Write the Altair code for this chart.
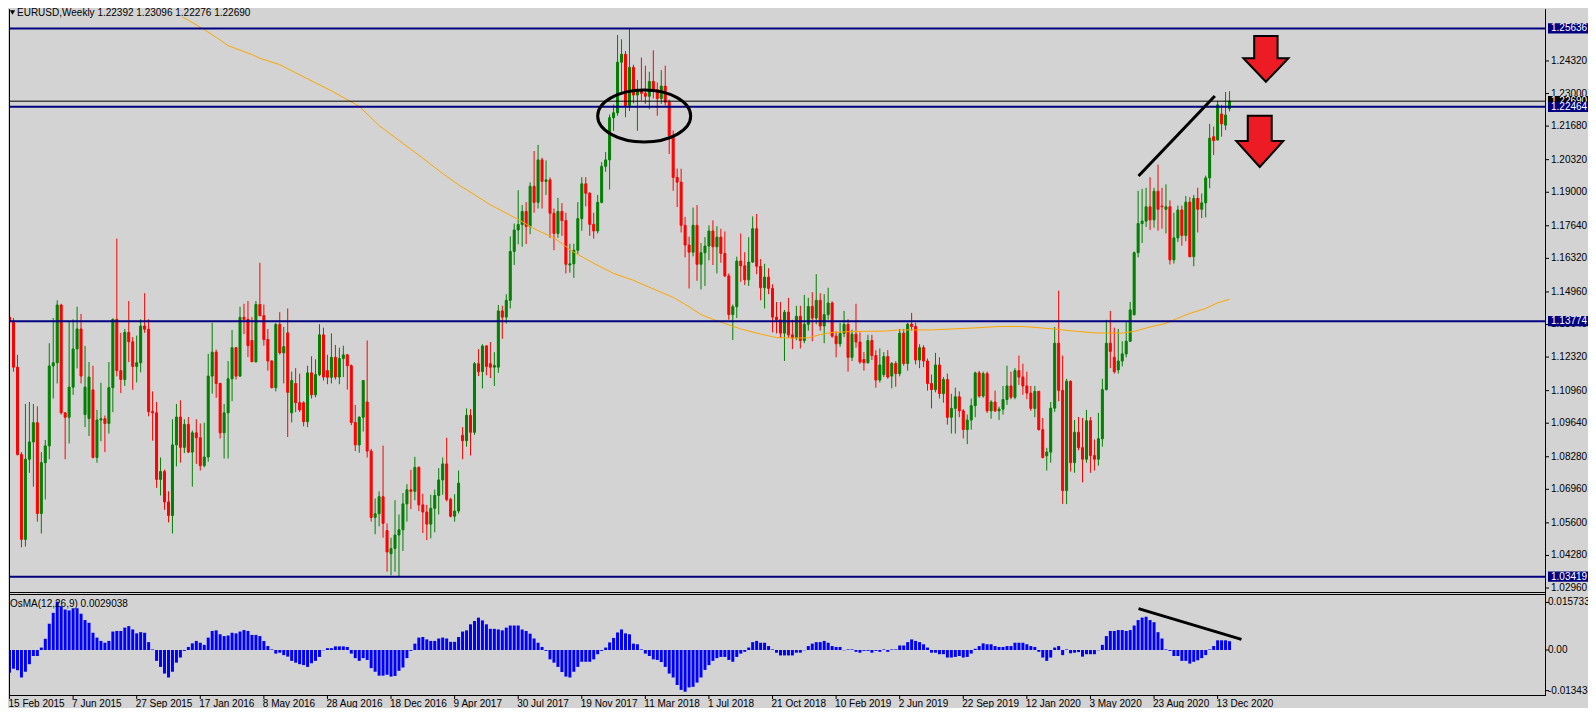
import json
import altair as alt
import pandas as pd

# ---------------- data ----------------
symbol = "EURUSD"
timeframe = "Weekly"

opens = [
    1.1394, 1.1375, 1.1191, 1.0837, 1.0493, 1.0818, 1.0888, 1.0966, 1.0598, 1.0804,
    1.0872, 1.1196, 1.1209, 1.1443, 1.1006, 1.0988, 1.1110, 1.1265, 1.1346, 1.0999,
    1.0983, 1.1099, 1.0825, 1.0977, 1.0982, 1.0963, 1.1108, 1.1385, 1.1177, 1.1141,
    1.1332, 1.1294, 1.1194, 1.1209, 1.1358, 1.1345, 1.1011, 1.1006, 1.0736, 1.0768,
    1.0645, 1.0590, 1.0876, 1.0989, 1.0866, 1.0959, 1.0847, 1.0925, 1.0905, 1.0792,
    1.0827, 1.1155, 1.1252, 1.1125, 1.0925, 1.1006, 1.1144, 1.1270, 1.1155, 1.1393,
    1.1385, 1.1299, 1.1213, 1.1445, 1.1400, 1.1303, 1.1216, 1.1108, 1.1364, 1.1249,
    1.1330, 1.1006, 1.1125, 1.1047, 1.1047, 1.0970, 1.1168, 1.1079, 1.1161, 1.1322,
    1.1177, 1.1150, 1.1231, 1.1151, 1.1226, 1.1241, 1.1197, 1.0967, 1.0876, 1.0988,
    1.1050, 1.0851, 1.0582, 1.0597, 1.0666, 1.0529, 1.0435, 1.0456, 1.0511, 1.0532,
    1.0637, 1.0694, 1.0688, 1.0785, 1.0633, 1.0604, 1.0555, 1.0619, 1.0671, 1.0734,
    1.0799, 1.0655, 1.0587, 1.0608, 1.0915, 1.0893, 1.0996, 1.0927, 1.1205, 1.1173,
    1.1277, 1.1205, 1.1191, 1.1191, 1.1419, 1.1394, 1.1462, 1.1660, 1.1747, 1.1769,
    1.1822, 1.1762, 1.1924, 1.1859, 1.2031, 1.1944, 1.1950, 1.1815, 1.1733, 1.1822,
    1.1785, 1.1605, 1.1610, 1.1665, 1.1793, 1.1934, 1.1896, 1.1770, 1.1743, 1.1859,
    1.2005, 1.2031, 1.2202, 1.2222, 1.2427, 1.2459, 1.2251, 1.2406, 1.2294, 1.2317,
    1.2301, 1.2289, 1.2349, 1.2316, 1.2280, 1.2330, 1.2265, 1.2129, 1.1960, 1.1941,
    1.1766, 1.1686, 1.1657, 1.1766, 1.1608, 1.1655, 1.1682, 1.1743, 1.1679, 1.1718,
    1.1652, 1.1561, 1.1404, 1.1436, 1.1621, 1.1602, 1.1545, 1.1617, 1.1752, 1.1600,
    1.1513, 1.1556, 1.1510, 1.1394, 1.1383, 1.1329, 1.1414, 1.1322, 1.1310, 1.1397,
    1.1299, 1.1365, 1.1437, 1.1390, 1.1462, 1.1358, 1.1404, 1.1451, 1.1317, 1.1286,
    1.1328, 1.1364, 1.1231, 1.1325, 1.1293, 1.1222, 1.1209, 1.1299, 1.1238, 1.1139,
    1.1161, 1.1234, 1.1155, 1.1206, 1.1165, 1.1329, 1.1206, 1.1365, 1.1356, 1.1220,
    1.1270, 1.1216, 1.1125, 1.1100, 1.1200, 1.1084, 1.1141, 1.0988, 1.1024, 1.1071,
    1.1014, 1.0938, 1.0977, 1.1035, 1.1168, 1.1074, 1.1165, 1.1014, 1.1050, 1.1014,
    1.1021, 1.1060, 1.1115, 1.1069, 1.1177, 1.1151, 1.1115, 1.1086, 1.1024, 1.1093,
    1.0938, 1.0832, 1.0847, 1.1025, 1.1288, 1.1097, 1.0691, 1.1134, 1.0804, 1.0927,
    1.0865, 1.0818, 1.0974, 1.0833, 1.0818, 1.0901, 1.1100, 1.1288, 1.1231, 1.1180,
    1.1216, 1.1245, 1.1296, 1.1404, 1.1655, 1.1773, 1.1783, 1.1841, 1.1788, 1.1904,
    1.1844, 1.1831, 1.1841, 1.1626, 1.1715, 1.1828, 1.1725, 1.1860, 1.1639, 1.1875,
    1.1831, 1.1857, 1.1958, 1.2125, 1.2112, 1.2217, 1.2172, 1.22392,
]
highs = [
    1.1448, 1.1390, 1.1241, 1.0847, 1.1042, 1.1050, 1.1042, 1.1032, 1.0847, 1.0896,
    1.1288, 1.1390, 1.1462, 1.1448, 1.1009, 1.1375, 1.1385, 1.1436, 1.1407, 1.1277,
    1.1212, 1.1197, 1.1018, 1.1128, 1.0995, 1.1212, 1.1388, 1.1712, 1.1330, 1.1346,
    1.1459, 1.1313, 1.1319, 1.1385, 1.1491, 1.1385, 1.1093, 1.1050, 1.0825, 1.0776,
    1.0688, 1.0980, 1.1042, 1.1057, 1.0980, 1.0989, 1.0934, 1.0980, 1.0963, 1.0966,
    1.1245, 1.1371, 1.1262, 1.1128, 1.1042, 1.1216, 1.1342, 1.1273, 1.1436, 1.1448,
    1.1459, 1.1394, 1.1459, 1.1614, 1.1445, 1.1346, 1.1220, 1.1371, 1.1414, 1.1354,
    1.1429, 1.1173, 1.1187, 1.1165, 1.1053, 1.1197, 1.1235, 1.1223, 1.1365, 1.1351,
    1.1241, 1.1328, 1.1281, 1.1270, 1.1278, 1.1245, 1.1202, 1.1038, 1.0992, 1.1139,
    1.1299, 1.0860, 1.0659, 1.0688, 1.0873, 1.0558, 1.0500, 1.0652, 1.0594, 1.0681,
    1.0717, 1.0775, 1.0828, 1.0789, 1.0678, 1.0633, 1.0674, 1.0695, 1.0782, 1.0825,
    1.0905, 1.0662, 1.0676, 1.0772, 1.0948, 1.1024, 1.1021, 1.1212, 1.1264, 1.1284,
    1.1281, 1.1293, 1.1252, 1.1443, 1.1440, 1.1487, 1.1721, 1.1773, 1.1908, 1.1848,
    1.1860, 1.1940, 1.2067, 1.2092, 1.2040, 1.2029, 1.1960, 1.1834, 1.1877, 1.1856,
    1.1817, 1.1691, 1.1691, 1.1860, 1.1961, 1.1961, 1.1900, 1.1817, 1.1889, 1.2022,
    1.2063, 1.2215, 1.2255, 1.2537, 1.2520, 1.2472, 1.2563, 1.2417, 1.2355, 1.2446,
    1.2413, 1.2388, 1.2475, 1.2345, 1.2395, 1.2413, 1.2275, 1.2150, 1.1996, 1.1995,
    1.1800, 1.1720, 1.1838, 1.1848, 1.1694, 1.1718, 1.1766, 1.1786, 1.1762, 1.1752,
    1.1741, 1.1571, 1.1445, 1.1639, 1.1733, 1.1657, 1.1718, 1.1802, 1.1812, 1.1629,
    1.1610, 1.1592, 1.1527, 1.1455, 1.1455, 1.1423, 1.1472, 1.1383, 1.1440, 1.1440,
    1.1484, 1.1472, 1.1495, 1.1568, 1.1491, 1.1487, 1.1513, 1.1458, 1.1336, 1.1371,
    1.1419, 1.1385, 1.1343, 1.1448, 1.1332, 1.1252, 1.1322, 1.1322, 1.1260, 1.1267,
    1.1252, 1.1260, 1.1212, 1.1215, 1.1346, 1.1346, 1.1371, 1.1411, 1.1371, 1.1284,
    1.1280, 1.1226, 1.1161, 1.1249, 1.1231, 1.1151, 1.1165, 1.1083, 1.1108, 1.1093,
    1.1021, 1.0999, 1.1064, 1.1173, 1.1176, 1.1173, 1.1173, 1.1057, 1.1096, 1.1031,
    1.1115, 1.1197, 1.1173, 1.1187, 1.1238, 1.1205, 1.1173, 1.1115, 1.1115, 1.1095,
    1.0985, 1.0864, 1.1050, 1.1354, 1.1501, 1.1238, 1.1144, 1.1137, 1.0977, 1.0989,
    1.0985, 1.1018, 1.0989, 1.0898, 1.1006, 1.1144, 1.1383, 1.1419, 1.1351, 1.1346,
    1.1296, 1.1375, 1.1455, 1.1660, 1.1906, 1.1914, 1.1918, 1.1961, 1.1918, 1.2012,
    1.1918, 1.1932, 1.1867, 1.1817, 1.1846, 1.1846, 1.1885, 1.1880, 1.1889, 1.1918,
    1.1895, 1.1967, 1.2177, 1.2166, 1.2270, 1.2254, 1.2306, 1.23096,
]
lows = [
    1.1274, 1.1173, 1.0833, 1.0461, 1.0464, 1.0763, 1.0707, 1.0565, 1.0517, 1.0655,
    1.0818, 1.1064, 1.1125, 1.0999, 1.0818, 1.0882, 1.1079, 1.1186, 1.1125, 1.0948,
    1.0912, 1.0821, 1.0804, 1.0891, 1.0847, 1.0922, 1.1009, 1.1154, 1.1086, 1.1115,
    1.1212, 1.1099, 1.1129, 1.1170, 1.1330, 1.0992, 1.0893, 1.0702, 1.0671, 1.0613,
    1.0562, 1.0517, 1.0789, 1.0804, 1.0843, 1.0843, 1.0707, 1.0799, 1.0772, 1.0785,
    1.0808, 1.1084, 1.1067, 1.0902, 1.0821, 1.0821, 1.1053, 1.1141, 1.1151, 1.1325,
    1.1232, 1.1212, 1.1210, 1.1397, 1.1278, 1.1177, 1.1105, 1.1093, 1.1242, 1.1125,
    1.0908, 1.0967, 1.1009, 1.1009, 1.0951, 1.0948, 1.1064, 1.1069, 1.1155, 1.1137,
    1.1122, 1.1125, 1.1141, 1.1122, 1.1151, 1.1100, 1.0956, 1.0851, 1.0844, 1.0930,
    1.0825, 1.0565, 1.0514, 1.0546, 1.0500, 1.0362, 1.0348, 1.0362, 1.0342, 1.0446,
    1.0565, 1.0616, 1.0652, 1.0608, 1.0519, 1.0490, 1.0497, 1.0522, 1.0594, 1.0674,
    1.0647, 1.0582, 1.0565, 1.0598, 1.0818, 1.0869, 1.0833, 1.0917, 1.1155, 1.1105,
    1.1158, 1.1147, 1.1115, 1.1168, 1.1306, 1.1368, 1.1429, 1.1605, 1.1689, 1.1679,
    1.1690, 1.1730, 1.1817, 1.1834, 1.1834, 1.1889, 1.1715, 1.1665, 1.1715, 1.1723,
    1.1571, 1.1574, 1.1553, 1.1650, 1.1744, 1.1843, 1.1723, 1.1712, 1.1733, 1.1855,
    1.1983, 1.1911, 1.2149, 1.2210, 1.2300, 1.2204, 1.2229, 1.2260, 1.2149, 1.2272,
    1.2258, 1.2236, 1.2280, 1.2210, 1.2258, 1.2251, 1.2055, 1.1906, 1.1840, 1.1737,
    1.1636, 1.1510, 1.1640, 1.1541, 1.1506, 1.1520, 1.1624, 1.1605, 1.1571, 1.1614,
    1.1556, 1.1383, 1.1301, 1.1390, 1.1537, 1.1524, 1.1520, 1.1614, 1.1568, 1.1462,
    1.1429, 1.1487, 1.1332, 1.1328, 1.1310, 1.1216, 1.1310, 1.1264, 1.1300, 1.1267,
    1.1288, 1.1339, 1.1296, 1.1365, 1.1339, 1.1288, 1.1383, 1.1310, 1.1231, 1.1274,
    1.1313, 1.1173, 1.1216, 1.1270, 1.1205, 1.1177, 1.1206, 1.1220, 1.1108, 1.1129,
    1.1151, 1.1144, 1.1105, 1.1112, 1.1154, 1.1197, 1.1177, 1.1339, 1.1202, 1.1187,
    1.1191, 1.1096, 1.1024, 1.1089, 1.1064, 1.1047, 1.0958, 1.0922, 1.0922, 1.0988,
    1.0902, 1.0879, 1.0938, 1.0988, 1.1067, 1.1067, 1.1006, 1.0982, 1.1009, 1.0977,
    1.0999, 1.1038, 1.1061, 1.1061, 1.1119, 1.1079, 1.1061, 1.1014, 1.0988, 1.0934,
    1.0821, 1.0772, 1.0804, 1.1010, 1.1053, 1.0637, 1.0636, 1.0768, 1.0763, 1.0854,
    1.0724, 1.0804, 1.0763, 1.0772, 1.0792, 1.0869, 1.1097, 1.1187, 1.1165, 1.1165,
    1.1194, 1.1231, 1.1293, 1.1400, 1.1636, 1.1694, 1.1759, 1.1747, 1.1756, 1.1744,
    1.1752, 1.1733, 1.1607, 1.1611, 1.1698, 1.1683, 1.1701, 1.1636, 1.1600, 1.1737,
    1.1795, 1.1798, 1.1916, 1.2051, 1.2110, 1.2125, 1.2152, 1.22276,
]
closes = [
    1.1375, 1.1191, 1.0837, 1.0493, 1.0818, 1.0888, 1.0966, 1.0598, 1.0804, 1.0872,
    1.1196, 1.1209, 1.1443, 1.1006, 1.0988, 1.1110, 1.1265, 1.1346, 1.1155, 1.1110,
    1.1151, 1.0825, 1.0977, 1.0982, 1.0963, 1.1108, 1.1385, 1.1177, 1.1141, 1.1332,
    1.1294, 1.1194, 1.1209, 1.1358, 1.1345, 1.1011, 1.1006, 1.0736, 1.0768, 1.0645,
    1.0590, 1.0876, 1.0989, 1.0866, 1.0959, 1.0847, 1.0925, 1.0905, 1.0792, 1.0827,
    1.1155, 1.1252, 1.1125, 1.0925, 1.1006, 1.1144, 1.1270, 1.1155, 1.1393, 1.1385,
    1.1278, 1.1213, 1.1445, 1.1400, 1.1303, 1.1216, 1.1108, 1.1364, 1.1249, 1.1274,
    1.1089, 1.1137, 1.1047, 1.1018, 1.0970, 1.1168, 1.1079, 1.1161, 1.1322, 1.1151,
    1.1150, 1.1231, 1.1151, 1.1226, 1.1241, 1.1197, 1.0967, 1.0876, 1.0988, 1.1137,
    1.0851, 1.0582, 1.0597, 1.0666, 1.0558, 1.0442, 1.0456, 1.0511, 1.0532, 1.0637,
    1.0694, 1.0688, 1.0785, 1.0633, 1.0604, 1.0555, 1.0619, 1.0671, 1.0734, 1.0799,
    1.0655, 1.0587, 1.0608, 1.0721, 1.0893, 1.0996, 1.0927, 1.1205, 1.1173, 1.1277,
    1.1194, 1.1191, 1.1198, 1.1419, 1.1394, 1.1462, 1.1660, 1.1747, 1.1769, 1.1822,
    1.1762, 1.1924, 1.1859, 1.2031, 1.1944, 1.1950, 1.1815, 1.1733, 1.1822, 1.1785,
    1.1608, 1.1610, 1.1665, 1.1793, 1.1934, 1.1896, 1.1770, 1.1743, 1.1859, 1.2005,
    1.2031, 1.2202, 1.2222, 1.2427, 1.2459, 1.2251, 1.2406, 1.2294, 1.2317, 1.2301,
    1.2289, 1.2349, 1.2316, 1.2280, 1.2330, 1.2265, 1.2129, 1.1960, 1.1941, 1.1766,
    1.1686, 1.1657, 1.1766, 1.1608, 1.1655, 1.1682, 1.1743, 1.1679, 1.1718, 1.1652,
    1.1561, 1.1404, 1.1436, 1.1621, 1.1602, 1.1545, 1.1617, 1.1752, 1.1600, 1.1513,
    1.1556, 1.1510, 1.1394, 1.1383, 1.1329, 1.1414, 1.1322, 1.1310, 1.1397, 1.1299,
    1.1365, 1.1437, 1.1390, 1.1462, 1.1358, 1.1404, 1.1451, 1.1317, 1.1286, 1.1328,
    1.1364, 1.1231, 1.1325, 1.1293, 1.1212, 1.1209, 1.1299, 1.1238, 1.1139, 1.1200,
    1.1234, 1.1151, 1.1206, 1.1165, 1.1329, 1.1206, 1.1365, 1.1356, 1.1220, 1.1270,
    1.1216, 1.1125, 1.1100, 1.1200, 1.1084, 1.1141, 1.0988, 1.1024, 1.1071, 1.1014,
    1.0938, 1.0977, 1.1035, 1.1168, 1.1074, 1.1165, 1.1014, 1.1050, 1.1014, 1.1021,
    1.1060, 1.1115, 1.1069, 1.1177, 1.1151, 1.1115, 1.1086, 1.1024, 1.1093, 1.0938,
    1.0825, 1.0847, 1.1025, 1.1288, 1.1097, 1.0691, 1.1134, 1.0804, 1.0927, 1.0865,
    1.0818, 1.0974, 1.0833, 1.0818, 1.0901, 1.1100, 1.1288, 1.1255, 1.1173, 1.1216,
    1.1245, 1.1296, 1.1423, 1.1655, 1.1773, 1.1783, 1.1841, 1.1788, 1.1904, 1.1831,
    1.1841, 1.1841, 1.1626, 1.1715, 1.1828, 1.1725, 1.1860, 1.1639, 1.1875, 1.1831,
    1.1857, 1.1958, 1.2119, 1.2109, 1.2254, 1.2177, 1.2213, 1.22690,
]
osma = [
    -0.0075, -0.0062, -0.0067, -0.0091, -0.0072, -0.0047, -0.0020, -0.0020, 0.0008, 0.0037,
    0.0087, 0.0123, 0.0160, 0.0145, 0.0134, 0.0131, 0.0138, 0.0138, 0.0120, 0.0099,
    0.0090, 0.0057, 0.0041, 0.0030, 0.0024, 0.0030, 0.0061, 0.0063, 0.0063, 0.0074,
    0.0079, 0.0068, 0.0055, 0.0059, 0.0057, 0.0026, 0.0002, -0.0036, -0.0056, -0.0078,
    -0.0091, -0.0072, -0.0042, -0.0025, -0.0003, 0.0010, 0.0022, 0.0030, 0.0024, 0.0017,
    0.0041, 0.0063, 0.0065, 0.0052, 0.0046, 0.0048, 0.0057, 0.0055, 0.0061, 0.0066,
    0.0063, 0.0050, 0.0050, 0.0046, 0.0030, 0.0013, 0.0002, -0.0012, -0.0009, -0.0017,
    -0.0022, -0.0036, -0.0042, -0.0047, -0.0050, -0.0056, -0.0044, -0.0036, -0.0023, -0.0001,
    0.0006, 0.0006, 0.0012, 0.0012, 0.0012, 0.0010, -0.0012, -0.0027, -0.0036, -0.0027,
    -0.0033, -0.0060, -0.0072, -0.0085, -0.0085, -0.0082, -0.0088, -0.0086, -0.0069, -0.0058,
    -0.0027, -0.0003, 0.0021, 0.0041, 0.0043, 0.0035, 0.0030, 0.0030, 0.0038, 0.0041,
    0.0038, 0.0027, 0.0027, 0.0043, 0.0061, 0.0065, 0.0085, 0.0096, 0.0107, 0.0098,
    0.0085, 0.0070, 0.0070, 0.0068, 0.0065, 0.0074, 0.0081, 0.0081, 0.0081, 0.0068,
    0.0063, 0.0054, 0.0038, 0.0024, 0.0010, -0.0003, -0.0031, -0.0042, -0.0056, -0.0073,
    -0.0088, -0.0091, -0.0072, -0.0056, -0.0039, -0.0039, -0.0039, -0.0031, -0.0014, -0.0003,
    0.0008, 0.0025, 0.0040, 0.0058, 0.0068, 0.0055, 0.0052, 0.0021, 0.0019, 0.0002,
    -0.0012, -0.0020, -0.0031, -0.0033, -0.0040, -0.0056, -0.0078, -0.0091, -0.0116, -0.0132,
    -0.0138, -0.0124, -0.0122, -0.0108, -0.0091, -0.0066, -0.0050, -0.0036, -0.0027, -0.0023,
    -0.0023, -0.0033, -0.0039, -0.0023, -0.0012, -0.0006, 0.0008, 0.0026, 0.0030, 0.0024,
    0.0024, 0.0013, 0.0002, -0.0009, -0.0018, -0.0018, -0.0018, -0.0018, -0.0009, -0.0009,
    -0.0001, 0.0013, 0.0021, 0.0026, 0.0026, 0.0030, 0.0024, 0.0013, 0.0010, 0.0010,
    -0.0001, 0.0002, 0.0002, -0.0006, -0.0009, -0.0003, -0.0003, -0.0009, -0.0003, -0.0006,
    0.0002, -0.0006, 0.0002, 0.0002, 0.0015, 0.0015, 0.0026, 0.0035, 0.0030, 0.0026,
    0.0019, 0.0008, -0.0009, -0.0009, -0.0014, -0.0014, -0.0025, -0.0025, -0.0023, -0.0020,
    -0.0025, -0.0023, -0.0012, 0.0004, 0.0013, 0.0022, 0.0019, 0.0019, 0.0013, 0.0010,
    0.0010, 0.0013, 0.0013, 0.0024, 0.0024, 0.0024, 0.0019, 0.0013, 0.0010, -0.0006,
    -0.0025, -0.0036, -0.0025, 0.0008, 0.0013, -0.0017, 0.0002, -0.0011, -0.0009, -0.0007,
    -0.0022, -0.0014, -0.0014, -0.0014, -0.0001, 0.0017, 0.0046, 0.0063, 0.0063, 0.0066,
    0.0066, 0.0063, 0.0066, 0.0081, 0.0099, 0.0107, 0.0110, 0.0099, 0.0092, 0.0059,
    0.0038, 0.0002, -0.0003, -0.0020, -0.0020, -0.0036, -0.0036, -0.0045, -0.0039, -0.0034,
    -0.0027, -0.0017, 0.0002, 0.0013, 0.0032, 0.0032, 0.0032, 0.0029038,
]

# orange moving average, read at points along the line (bar index, price)
ma_bar = [43.5, 44.9, 48.3, 52, 55, 61, 63, 68, 72, 77, 81, 85, 88, 93, 97, 103, 109, 113,
          117, 121, 128, 132, 137, 142, 147, 152, 157, 162, 167, 171, 174, 177, 180, 184,
          189, 193, 197, 201, 204, 207, 213, 220, 224, 232, 236, 244, 249, 255, 262, 268,
          273, 280, 283, 287, 291, 293, 297, 301, 304, 307]
ma_price = [1.2610, 1.2598, 1.2566, 1.2528, 1.2494, 1.2458, 1.2443, 1.2417, 1.2384, 1.2343,
            1.2311, 1.2275, 1.2248, 1.2170, 1.2122, 1.2050, 1.1976, 1.1930, 1.1890, 1.1849,
            1.1790, 1.1752, 1.1715, 1.1657, 1.1612, 1.1571, 1.1543, 1.1508, 1.1474, 1.1436,
            1.1404, 1.1385, 1.1368, 1.1346, 1.1325, 1.1311, 1.1309, 1.1310, 1.1323, 1.1332,
            1.1336, 1.1337, 1.1342, 1.1342, 1.1345, 1.1351, 1.1356, 1.1356, 1.1347, 1.1337,
            1.1330, 1.1329, 1.1336, 1.1354, 1.1368, 1.1383, 1.1409, 1.1429, 1.1452, 1.1466]

date_labels = ["15 Feb 2015", "7 Jun 2015", "27 Sep 2015", "17 Jan 2016", "8 May 2016",
               "28 Aug 2016", "18 Dec 2016", "9 Apr 2017", "30 Jul 2017", "19 Nov 2017",
               "11 Mar 2018", "1 Jul 2018", "21 Oct 2018", "10 Feb 2019", "2 Jun 2019",
               "22 Sep 2019", "12 Jan 2020", "3 May 2020", "23 Aug 2020", "13 Dec 2020"]
label_step = 16
date_bars = [k * label_step for k in range(len(date_labels))]

price_ticks = [1.24320, 1.23000, 1.21680, 1.20320, 1.19000, 1.17640, 1.16320, 1.14960,
               1.13640, 1.12320, 1.10960, 1.09640, 1.08280, 1.06960, 1.05600, 1.04280, 1.02960]
level_prices = [1.25636, 1.22464, 1.13774, 1.03419]
bid_price = 1.22690
osma_ticks = [0.0157338, 0.0, -0.013434]
osma_tick_text = ["0.0157338", "0.00", "-0.013434"]

# hand-drawn annotations (bar index, value)
trend_bar = [284.1, 303.3]
trend_price = [1.1966, 1.2290]
osma_trend_bar = [284.1, 310.0]
osma_trend_val = [0.0137, 0.0035]
ellipse_bar = [159.7]
ellipse_price = [1.2209]
arrow1_bar = [316.15]
arrow1_price = [1.2441]
arrow2_bar = [314.6]
arrow2_price = [1.2106]

# ---------------- layout / style ----------------
FONT = "Liberation Sans, Arial, sans-serif"
FS = 10
BG = "#D3D3D3"
NAVY = "#000080"
PLOT_W, PLOT_H = 1537, 686
X_DOMAIN = [1.125, 1.125 + PLOT_W / 4]
PRICE_DOMAIN = [1.02799, 1.26426]
PRICE_RANGE = [583, 0]
OSMA_DOMAIN = [-0.0149, 0.0182]
OSMA_RANGE = [686, 586]
AXIS_X = 1537          # right edge of the plot, px
LABEL_X = 1542         # start of the right-hand labels, px

n = len(closes)
cdf = pd.DataFrame({"i": list(range(n)), "o": opens, "h": highs, "l": lows, "c": closes})
cdf["dir"] = ["up" if c >= o else "down" for o, c in zip(opens, closes)]
cdf["top"] = cdf[["o", "c"]].max(axis=1)
cdf["bot"] = cdf[["o", "c"]].min(axis=1)

xs = alt.Scale(domain=X_DOMAIN, nice=False, zero=False)
ps = alt.Scale(domain=PRICE_DOMAIN, range=PRICE_RANGE, nice=False, zero=False)
oscl = alt.Scale(domain=OSMA_DOMAIN, range=OSMA_RANGE, nice=False, zero=False)
cscale = alt.Scale(domain=["up", "down"], range=["#008000", "#FF0000"])

X = alt.X("i:Q", scale=xs, axis=None)
YP = alt.Y("p:Q", scale=ps, axis=None)
YO = alt.Y("v:Q", scale=oscl, axis=None)

wicks = alt.Chart(cdf).mark_rule(strokeWidth=1, clip=True).encode(
    x=X, y=alt.Y("l:Q", scale=ps, axis=None), y2="h:Q",
    color=alt.Color("dir:N", scale=cscale, legend=None))

bodies = alt.Chart(cdf).mark_bar(width=2, strokeWidth=1, clip=True).encode(
    x=X, y=alt.Y("bot:Q", scale=ps, axis=None), y2="top:Q",
    color=alt.Color("dir:N", scale=cscale, legend=None),
    stroke=alt.Stroke("dir:N", scale=cscale, legend=None))

levels = alt.Chart(pd.DataFrame({"p": level_prices})).mark_rule(
    color=NAVY, strokeWidth=2).encode(y=YP)

bid_line = alt.Chart(pd.DataFrame({"p": [bid_price]})).mark_rule(
    color="black", strokeWidth=1).encode(y=YP)

ma_line = alt.Chart(pd.DataFrame({"i": ma_bar, "p": ma_price})).mark_line(
    color="#FFA500", strokeWidth=1, clip=True).encode(x=X, y=YP)

trend = alt.Chart(pd.DataFrame({"i": trend_bar, "p": trend_price})).mark_line(
    color="black", strokeWidth=3).encode(x=X, y=YP)

ELLIPSE = "M-1,0 A1,0.559 0 1,1 1,0 A1,0.559 0 1,1 -1,0 Z"
ellipse = alt.Chart(pd.DataFrame({"i": ellipse_bar, "p": ellipse_price})).mark_point(
    shape=ELLIPSE, size=93 * 93, filled=False, stroke="black", strokeWidth=3,
    opacity=1).encode(x=X, y=YP)

ARROW1 = "M-0.52,-1.01 L0.52,-1.01 L0.52,-0.02 L1,-0.02 L0,1.02 L-1,-0.02 L-0.52,-0.02 Z"
ARROW2 = "M-0.51,-1.09 L0.51,-1.09 L0.51,-0.02 L1,-0.02 L0,1.09 L-1,-0.02 L-0.51,-0.02 Z"
arrow1 = alt.Chart(pd.DataFrame({"i": arrow1_bar, "p": arrow1_price})).mark_point(
    shape=ARROW1, size=45 * 45, filled=True, fill="#ED1C24", stroke="black",
    strokeWidth=2, opacity=1).encode(x=X, y=YP)
arrow2 = alt.Chart(pd.DataFrame({"i": arrow2_bar, "p": arrow2_price})).mark_point(
    shape=ARROW2, size=47 * 47, filled=True, fill="#ED1C24", stroke="black",
    strokeWidth=2, opacity=1).encode(x=X, y=YP)

one = pd.DataFrame({"k": [0]})
frame_left = alt.Chart(one).mark_rule(color="black", strokeWidth=1).encode(
    x=alt.value(0.5), y=alt.value(0), y2=alt.value(PLOT_H))
frame_right = alt.Chart(one).mark_rule(color="black", strokeWidth=1).encode(
    x=alt.value(AXIS_X - 0.5), y=alt.value(0), y2=alt.value(PLOT_H + 0.5))
main_bottom = alt.Chart(one).mark_rule(color="black", strokeWidth=1).encode(
    y=alt.value(583.5))
osma_top = alt.Chart(one).mark_rule(color="black", strokeWidth=1).encode(
    y=alt.value(585.5))
osma_bottom = alt.Chart(one).mark_rule(color="black", strokeWidth=1).encode(
    y=alt.value(PLOT_H + 0.5))

# right-hand price scale
ptick_df = pd.DataFrame({"p": price_ticks, "t": [f"{v:.5f}" for v in price_ticks]})
ptick_marks = alt.Chart(ptick_df).mark_rule(color="black", strokeWidth=1).encode(
    x=alt.value(AXIS_X), x2=alt.value(AXIS_X + 3), y=YP)
ptick_text = alt.Chart(ptick_df).mark_text(
    align="left", baseline="middle", font=FONT, fontSize=FS, color="black").encode(
    x=alt.value(LABEL_X), y=YP, text="t:N")

BOX = "M-1,-0.25 L1,-0.25 L1,0.25 L-1,0.25 Z"
bid_df = pd.DataFrame({"p": [bid_price], "t": [f"{bid_price:.5f}"]})
lvl_df = pd.DataFrame({"p": level_prices, "t": [f"{v:.5f}" for v in level_prices]})
bid_box = alt.Chart(bid_df).mark_point(shape=BOX, size=41 * 41, filled=True, fill="black",
                                       opacity=1, strokeWidth=0).encode(
    x=alt.value(AXIS_X + 22.5), y=YP)
bid_txt = alt.Chart(bid_df).mark_text(align="left", baseline="middle", color="white",
                                      font=FONT, fontSize=FS).encode(
    x=alt.value(LABEL_X), y=YP, text="t:N")
lvl_box = alt.Chart(lvl_df).mark_point(shape=BOX, size=41 * 41, filled=True, fill=NAVY,
                                       opacity=1, strokeWidth=0).encode(
    x=alt.value(AXIS_X + 22.5), y=YP)
lvl_txt = alt.Chart(lvl_df).mark_text(align="left", baseline="middle", color="white",
                                      font=FONT, fontSize=FS).encode(
    x=alt.value(LABEL_X), y=YP, text="t:N")

last = n - 1
header_text = (f"{symbol},{timeframe}  {opens[last]:.5f} {highs[last]:.5f} "
               f"{lows[last]:.5f} {closes[last]:.5f}")
header = alt.Chart(pd.DataFrame({"t": [header_text]})).mark_text(
    align="left", baseline="middle", font=FONT, fontSize=FS, color="black").encode(
    x=alt.value(8), y=alt.value(3.5), text="t:N")
header_icon = alt.Chart(one).mark_point(
    shape="triangle-down", size=28, filled=True, fill="black", opacity=1,
    strokeWidth=0).encode(x=alt.value(3.5), y=alt.value(3.5))

price_group = alt.layer(wicks, bodies, ma_line, levels, bid_line, trend, ellipse,
                        arrow1, arrow2, ptick_marks, ptick_text, bid_box, bid_txt,
                        lvl_box, lvl_txt, header, header_icon)

# ---------------- OsMA panel ----------------
odf = pd.DataFrame({"i": list(range(n)), "v": osma})
osma_bars = alt.Chart(odf).mark_bar(width=3, color="#0000FF", clip=True).encode(
    x=X, y=YO, y2=alt.datum(0))

osma_trend = alt.Chart(pd.DataFrame({"i": osma_trend_bar, "v": osma_trend_val})).mark_line(
    color="black", strokeWidth=3).encode(x=X, y=YO)

otick_df = pd.DataFrame({"v": osma_ticks, "t": osma_tick_text})
otick_marks = alt.Chart(otick_df).mark_rule(color="black", strokeWidth=1).encode(
    x=alt.value(AXIS_X), x2=alt.value(AXIS_X + 3), y=YO)
otick_text = alt.Chart(otick_df).mark_text(
    align="left", baseline="middle", font=FONT, fontSize=FS, color="black").encode(
    x=alt.value(LABEL_X - 3), y=YO, text="t:N")

osma_label = alt.Chart(pd.DataFrame({"t": [f"OsMA(12,26,9) {osma[-1]:.7f}"]})).mark_text(
    align="left", baseline="middle", font=FONT, fontSize=FS, color="black").encode(
    x=alt.value(1), y=alt.value(595), text="t:N")

# time scale under the OsMA panel
time_df = pd.DataFrame({"i": date_bars, "t": date_labels})
time_ticks = alt.Chart(time_df).mark_rule(color="black", strokeWidth=1).encode(
    x=X, y=alt.value(PLOT_H), y2=alt.value(PLOT_H + 4))
time_text = alt.Chart(time_df).mark_text(
    align="left", baseline="top", dx=-1, font=FONT, fontSize=FS, color="black").encode(
    x=X, y=alt.value(PLOT_H + 4), text="t:N")

osma_group = alt.layer(osma_bars, osma_trend, otick_marks, otick_text, osma_label,
                       time_ticks, time_text, frame_left, frame_right, main_bottom,
                       osma_top, osma_bottom)

chart = alt.layer(price_group, osma_group).resolve_scale(y="independent").properties(
    width=PLOT_W, height=PLOT_H,
    padding={"left": 1, "top": 1, "right": 42, "bottom": 13},
    autosize=alt.AutoSizeParams(type="none"),
).configure(background=BG).configure_view(stroke=None)

chart.save("out.html", embed_options={"renderer": "svg", "actions": False})
